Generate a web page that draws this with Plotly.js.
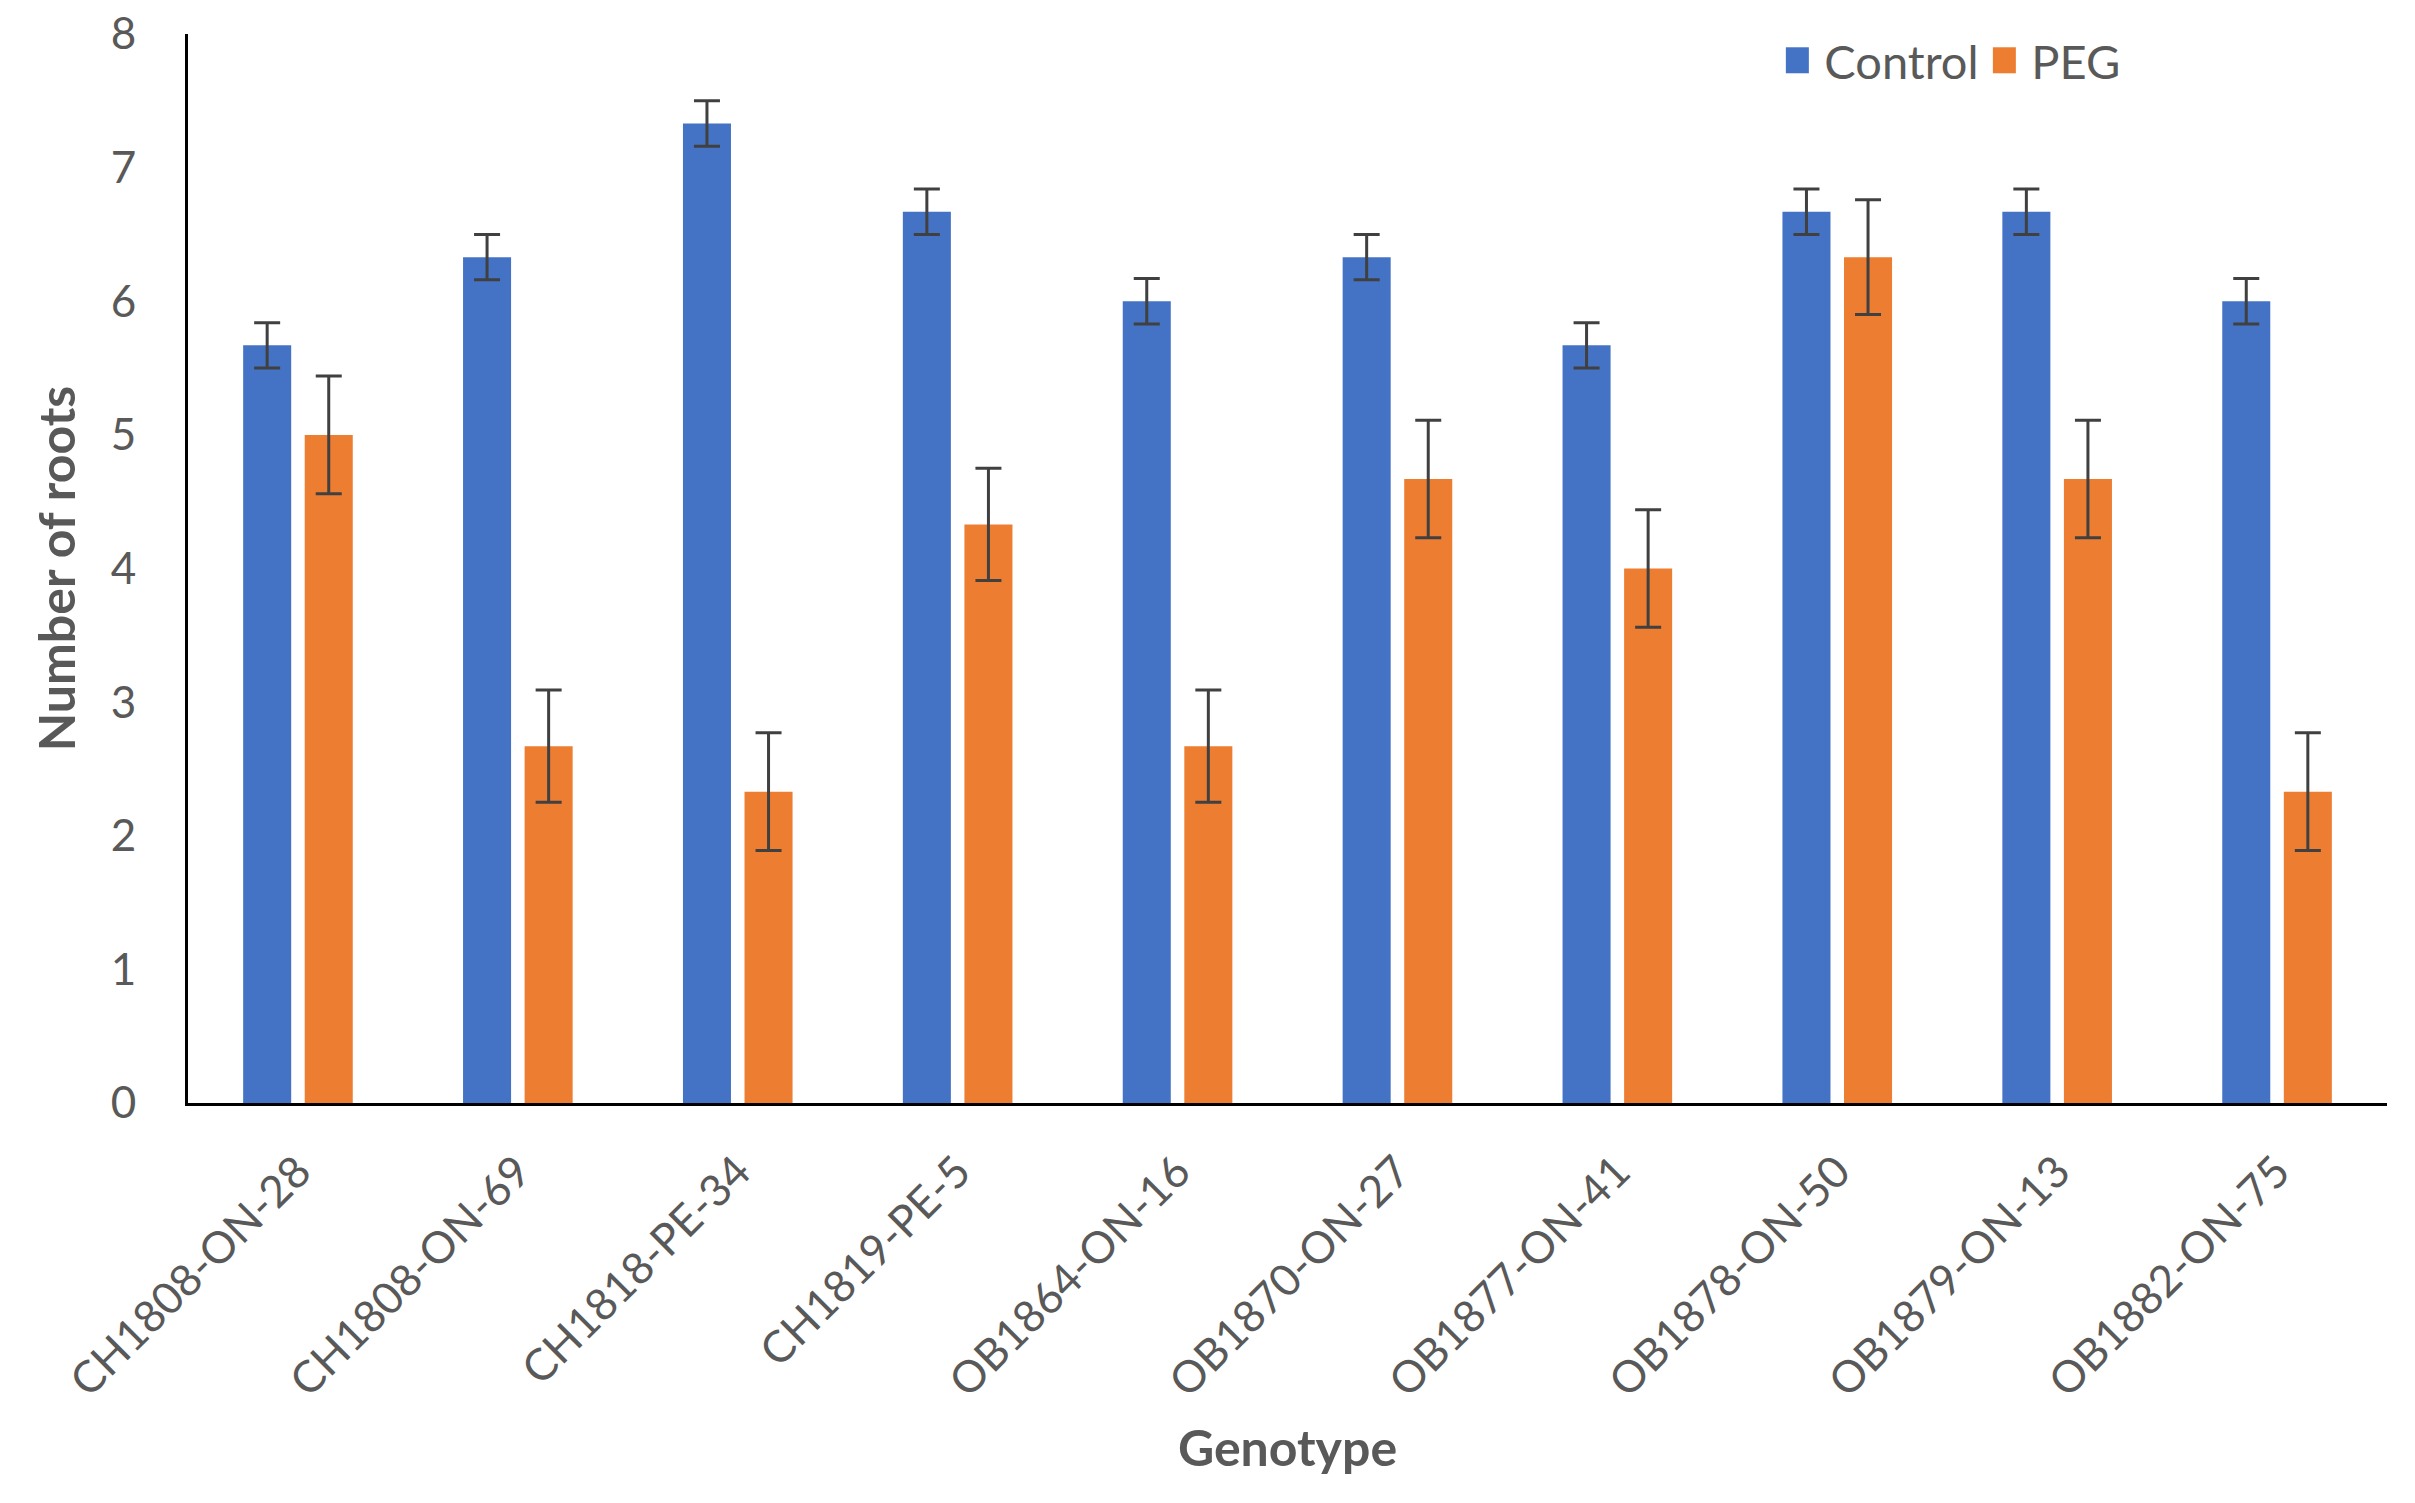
<!DOCTYPE html>
<html>
<head>
<meta charset="utf-8">
<script src="https://cdn.plot.ly/plotly-3.0.1.min.js"></script>
<style>html,body{margin:0;padding:0;background:#fff;}#chart{width:2415px;height:1503px;}</style>
</head>
<body>
<div id="chart"></div>
<script>
const genotypes = ["CH1808-ON-28","CH1808-ON-69","CH1818-PE-34","CH1819-PE-5","OB1864-ON-16","OB1870-ON-27","OB1877-ON-41","OB1878-ON-50","OB1879-ON-13","OB1882-ON-75"];
const controlValues = [5.67, 6.33, 7.33, 6.67, 6.0, 6.33, 5.67, 6.67, 6.67, 6.0];
const controlErrors = [0.17, 0.17, 0.17, 0.17, 0.17, 0.17, 0.17, 0.17, 0.17, 0.17];
const pegValues = [5.0, 2.67, 2.33, 4.33, 2.67, 4.67, 4.0, 6.33, 4.67, 2.33];
const pegErrors = [0.44, 0.42, 0.44, 0.42, 0.42, 0.44, 0.44, 0.43, 0.44, 0.44];
const yTicks = [0,1,2,3,4,5,6,7,8];

const FONT = "Lato, 'Open Sans', sans-serif";
const TXT = "#595959";

const errStyle = {type:'data', visible:true, color:'#404040', thickness:3, width:13};

const traces = [
  {type:'bar', name:'Control', x:genotypes, y:controlValues,
   marker:{color:'#4472C4'},
   error_y:Object.assign({array:controlErrors}, errStyle)},
  {type:'bar', name:'PEG', x:genotypes, y:pegValues,
   marker:{color:'#ED7D31'},
   error_y:Object.assign({array:pegErrors}, errStyle)}
];

const layout = {
  width:2415, height:1503,
  paper_bgcolor:'#fff', plot_bgcolor:'#fff',
  margin:{l:188, r:28, t:34, b:400},
  barmode:'group', bargap:0.44, bargroupgap:0.22,
  font:{family:FONT, color:TXT, size:44},
  showlegend:true,
  legend:{orientation:'h', x:0.7214, xanchor:'left', y:0.975, yanchor:'middle',
          itemwidth:40, entrywidth:152,
          font:{family:FONT, size:47, color:TXT}, bgcolor:'rgba(0,0,0,0)'},
  xaxis:{
    type:'category', tickangle:-45,
    showline:true, linecolor:'#000', linewidth:3,
    showgrid:false, zeroline:false,
    ticks:'outside', ticklen:22, tickcolor:'rgba(0,0,0,0)',
    tickfont:{family:FONT, size:44, color:TXT},
    title:{text:'<b>Genotype</b>', font:{family:FONT, size:50, color:TXT}, standoff:27}
  },
  yaxis:{
    range:[0,8], tickvals:yTicks, ticktext:yTicks.map(String),
    showline:true, linecolor:'#000', linewidth:3,
    showgrid:false, zeroline:false,
    ticks:'outside', ticklen:40, tickcolor:'rgba(0,0,0,0)',
    tickfont:{family:FONT, size:44, color:TXT},
    title:{text:'<b>Number of roots</b>', font:{family:FONT, size:50, color:TXT}, standoff:20}
  }
};

Plotly.newPlot('chart', traces, layout, {displayModeBar:false, staticPlot:true}).then(function(gd){
  document.querySelectorAll('#chart .legend [clip-path]').forEach(function(e){
    e.removeAttribute('clip-path');
  });
  document.querySelectorAll('#chart .legend .legendpoints path').forEach(function(p){
    p.removeAttribute('transform');
    p.setAttribute('d', 'M34.5,13H11.5V-13H34.5Z');
  });
});
</script>
</body>
</html>
